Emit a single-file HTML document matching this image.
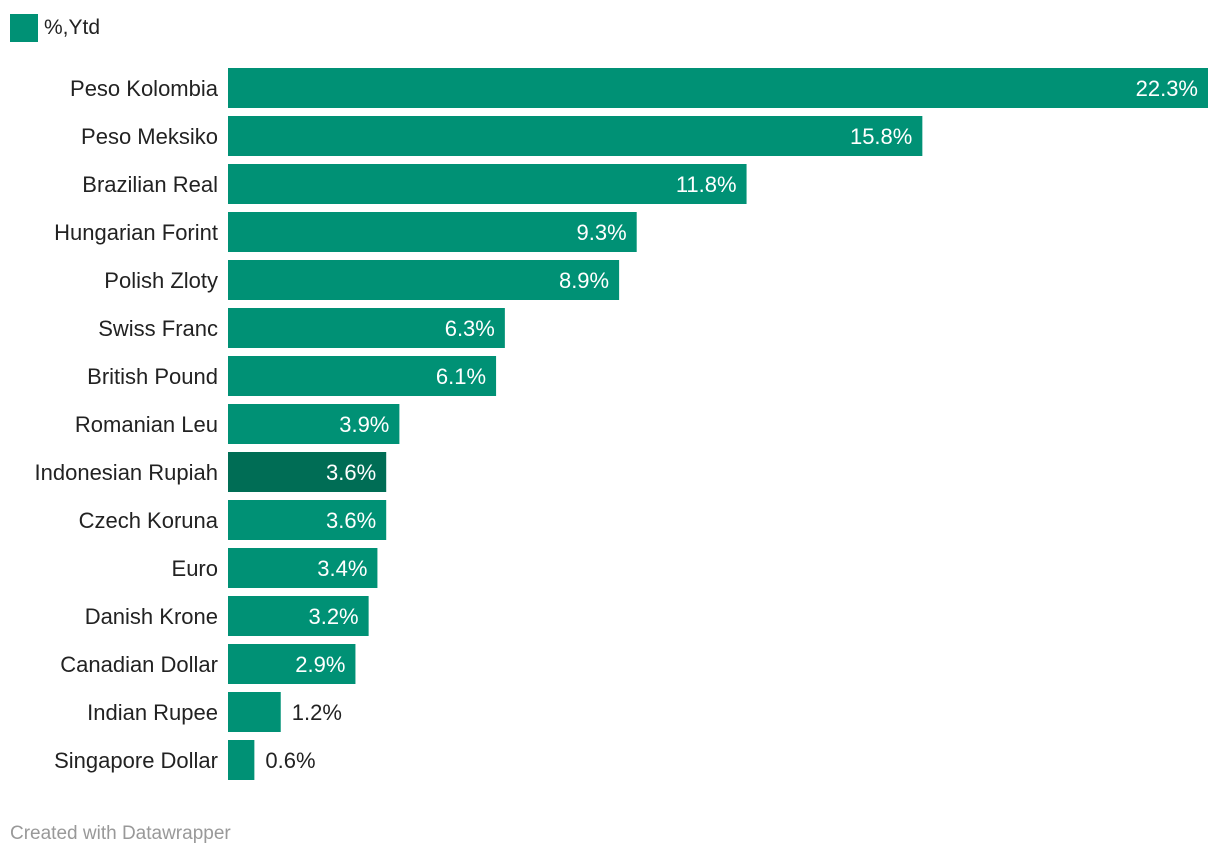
<!DOCTYPE html>
<html><head><meta charset="utf-8"><style>
body{margin:0;background:#fff;width:1220px;height:858px;overflow:hidden;font-family:"Liberation Sans",sans-serif;}
svg text{font-family:"Liberation Sans",sans-serif;}
</style></head><body>
<svg id="chart" width="1220" height="858">
<rect x="10" y="14" width="28" height="28" fill="#009175"></rect>
<text x="44" y="34" font-size="21" fill="#222">%,Ytd</text>
<g id="bars"></g>
<text x="10" y="839" font-size="19" fill="#999">Created with Datawrapper</text>
</svg>
<script>
const categories=["Peso Kolombia","Peso Meksiko","Brazilian Real","Hungarian Forint","Polish Zloty","Swiss Franc","British Pound","Romanian Leu","Indonesian Rupiah","Czech Koruna","Euro","Danish Krone","Canadian Dollar","Indian Rupee","Singapore Dollar"];
const values=[22.3,15.8,11.8,9.3,8.9,6.3,6.1,3.9,3.6,3.6,3.4,3.2,2.9,1.2,0.6];
const highlight=["Indonesian Rupiah"];
const x0=228,xMax=22.3,wMax=980,top0=68,pitch=48,bh=40;
const xs=v=>x0+v/xMax*wMax;
const ys=i=>top0+i*pitch;
const g=document.getElementById('bars');
const NS='http://www.w3.org/2000/svg';
categories.forEach((c,i)=>{
  const y=ys(i),xe=xs(values[i]);
  const lab=document.createElementNS(NS,'text');
  
  
  lab.setAttribute('x',218);lab.setAttribute('y',y+28);lab.setAttribute('text-anchor','end');
  lab.setAttribute('font-size','22');lab.setAttribute('fill','#222');lab.textContent=c;g.appendChild(lab);
  const r=document.createElementNS(NS,'rect');
  
  
  r.setAttribute('x',x0);r.setAttribute('y',y);r.setAttribute('width',xe-x0);r.setAttribute('height',bh);
  r.setAttribute('fill',highlight.includes(c)?'#006d55':'#009175');g.appendChild(r);
  const v=document.createElementNS(NS,'text');
  
  
  const inside=values[i]>=2;
  v.setAttribute('x',inside?xe-10:xe+11);v.setAttribute('y',y+28);
  v.setAttribute('text-anchor',inside?'end':'start');v.setAttribute('font-size','22');
  v.setAttribute('fill',inside?'#fff':'#222');v.textContent=values[i].toFixed(1)+'%';g.appendChild(v);
});
</script>
</body></html>
